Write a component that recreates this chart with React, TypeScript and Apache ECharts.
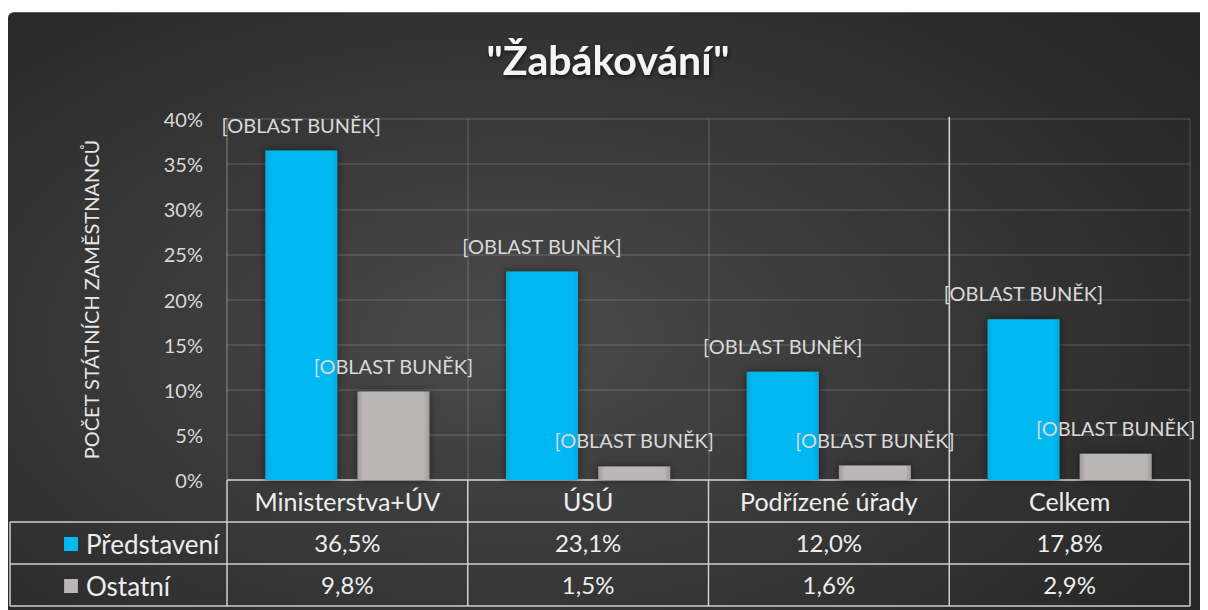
import React, { useEffect, useRef } from 'react';
import * as echarts from 'echarts';

const TITLE = '"Žabákování"';
const Y_AXIS_NAME = 'POČET STÁTNÍCH ZAMĚSTNANCŮ';
const categories = ['Ministerstva+ÚV', 'ÚSÚ', 'Podřízené úřady', 'Celkem'];
const seriesNames = ['Představení', 'Ostatní'];
const predstaveni = [36.5, 23.1, 12.0, 17.8];
const ostatni = [9.8, 1.5, 1.6, 2.9];
const yMin = 0;
const yMax = 40;
const yInterval = 5;
const LABEL_TEXT = '[OBLAST BUNĚK]';

const FONT = 'Lato, "Open Sans", sans-serif';
const ROW_H = 42;
const TABLE_LEFT = 2;
const LINE_COLOR = '#cfcfcf';

const fmt = (v: number) => v.toFixed(1).replace('.', ',') + '%';

export default function App() {
  const ref = useRef<HTMLDivElement>(null);
  useEffect(() => {
    if (!ref.current) return;
    const chart = echarts.init(ref.current, null, { renderer: 'svg' });
    const catLabel = { color: '#eeeeee', fontSize: 25, fontFamily: FONT, margin: 8, interval: 0 };
    const valLabel = { color: '#eeeeee', fontSize: 24, fontFamily: FONT, margin: 8, interval: 0 };
    const barLabel = {
      show: true,
      position: 'top',
      distance: 16,
      formatter: () => LABEL_TEXT,
      color: '#d9d9d9',
      fontSize: 20,
      fontFamily: FONT,
    };
    const option: any = {
      animation: false,
      backgroundColor: 'transparent',
      textStyle: { fontFamily: FONT },
      title: {
        text: TITLE,
        left: 'center',
        top: 21,
        textStyle: {
          color: '#f4f4f4',
          fontSize: 41,
          fontWeight: 'bold',
          fontFamily: FONT,
          textShadowColor: 'rgba(0,0,0,0.6)',
          textShadowBlur: 4,
          textShadowOffsetX: 1,
          textShadowOffsetY: 2,
        },
      },
      legend: {
        data: seriesNames,
        orient: 'vertical',
        left: 51,
        top: 513,
        itemWidth: 14,
        itemHeight: 14,
        itemGap: 16,
        icon: 'rect',
        textStyle: { color: '#eeeeee', fontSize: 26, fontFamily: FONT, padding: [0, 0, 0, 3] },
      },
      grid: { left: 219, right: 18, top: 106, bottom: 130, containLabel: false },
      xAxis: [
        {
          type: 'category',
          data: categories,
          axisLine: { show: false },
          axisTick: { show: false },
          axisLabel: catLabel,
          splitLine: { show: true, interval: 0, lineStyle: { color: 'rgba(255,255,255,0.14)', width: 1.5 } },
        },
        {
          type: 'category',
          data: categories,
          position: 'bottom',
          offset: ROW_H,
          axisLine: { show: false },
          axisTick: { show: false },
          splitLine: { show: false },
          axisLabel: { ...valLabel, formatter: (_: string, i: number) => fmt(predstaveni[i]) },
        },
        {
          type: 'category',
          data: categories,
          position: 'bottom',
          offset: ROW_H * 2,
          axisLine: { show: false },
          axisTick: { show: false },
          splitLine: { show: false },
          axisLabel: { ...valLabel, formatter: (_: string, i: number) => fmt(ostatni[i]) },
        },
      ],
      yAxis: {
        type: 'value',
        min: yMin,
        max: yMax,
        interval: yInterval,
        name: Y_AXIS_NAME,
        nameLocation: 'middle',
        nameGap: 126,
        nameTextStyle: { color: '#e6e6e6', fontSize: 20, fontFamily: FONT },
        axisLine: { show: true, lineStyle: { color: 'rgba(255,255,255,0.14)', width: 1.5 } },
        axisTick: { show: false },
        axisLabel: { color: '#d9d9d9', fontSize: 20, margin: 24, formatter: '{value}%', fontFamily: FONT },
        splitLine: { lineStyle: { color: 'rgba(255,255,255,0.14)', width: 1.5 } },
      },
      series: [
        {
          name: seriesNames[0],
          type: 'bar',
          data: predstaveni,
          barWidth: 72,
          barGap: '28%',
          itemStyle: {
            color: {
              type: 'linear', x: 0, y: 0, x2: 1, y2: 0,
              colorStops: [
                { offset: 0, color: '#0aa6d8' },
                { offset: 0.08, color: '#00b9f2' },
                { offset: 0.92, color: '#00b9f2' },
                { offset: 1, color: '#0aa6d8' },
              ],
            },
            shadowColor: 'rgba(0,0,0,0.5)',
            shadowBlur: 8,
          },
          label: barLabel,
        },
        {
          name: seriesNames[1],
          type: 'bar',
          data: ostatni,
          barWidth: 72,
          itemStyle: {
            color: {
              type: 'linear', x: 0, y: 0, x2: 1, y2: 0,
              colorStops: [
                { offset: 0, color: '#9e9a9a' },
                { offset: 0.08, color: '#bbb7b7' },
                { offset: 0.92, color: '#bbb7b7' },
                { offset: 1, color: '#9e9a9a' },
              ],
            },
            shadowColor: 'rgba(0,0,0,0.5)',
            shadowBlur: 8,
          },
          label: barLabel,
        },
      ],
    };
    chart.setOption(option);

    const centers = categories.map((c) => chart.convertToPixel({ xAxisIndex: 0 } as any, c) as number);
    const band = centers.length > 1 ? centers[1] - centers[0] : 0;
    const bounds = centers.map((c) => c - band / 2);
    bounds.push(centers[centers.length - 1] + band / 2);
    const yBottom = chart.convertToPixel({ yAxisIndex: 0 } as any, yMin) as number;
    const yTop = chart.convertToPixel({ yAxisIndex: 0 } as any, yMax) as number;
    const left = bounds[0];
    const right = bounds[bounds.length - 1];
    const ls = { stroke: LINE_COLOR, lineWidth: 1.5 };
    const line = (x1: number, y1: number, x2: number, y2: number) => ({
      type: 'line',
      shape: { x1, y1, x2, y2 },
      style: ls,
      silent: true,
    });
    const g: any[] = [];
    g.push(line(left, yBottom, right, yBottom));
    for (let r = 1; r <= 3; r++) g.push(line(TABLE_LEFT, yBottom + ROW_H * r, right, yBottom + ROW_H * r));
    g.push(line(TABLE_LEFT, yBottom + ROW_H, TABLE_LEFT, yBottom + ROW_H * 3));
    bounds.forEach((b, i) => {
      const top = i === 3 ? yTop - 2 : yBottom;
      g.push(line(b, top, b, yBottom + ROW_H * 3));
    });
    chart.setOption({ graphic: g });

    return () => chart.dispose();
  }, []);

  return (
    <div style={{ paddingTop: 4 }}>
      <div
        ref={ref}
        style={{
          width: 1200,
          height: 598,
          boxSizing: 'border-box',
          borderTop: '1px solid #5e5e5e',
          borderRadius: '6px 6px 0 0',
          background:
            'radial-gradient(ellipse 70% 80% at 42% 55%, #4a4a4a 0%, #3b3b3b 40%, #262626 100%)',
        }}
      />
    </div>
  );
}
